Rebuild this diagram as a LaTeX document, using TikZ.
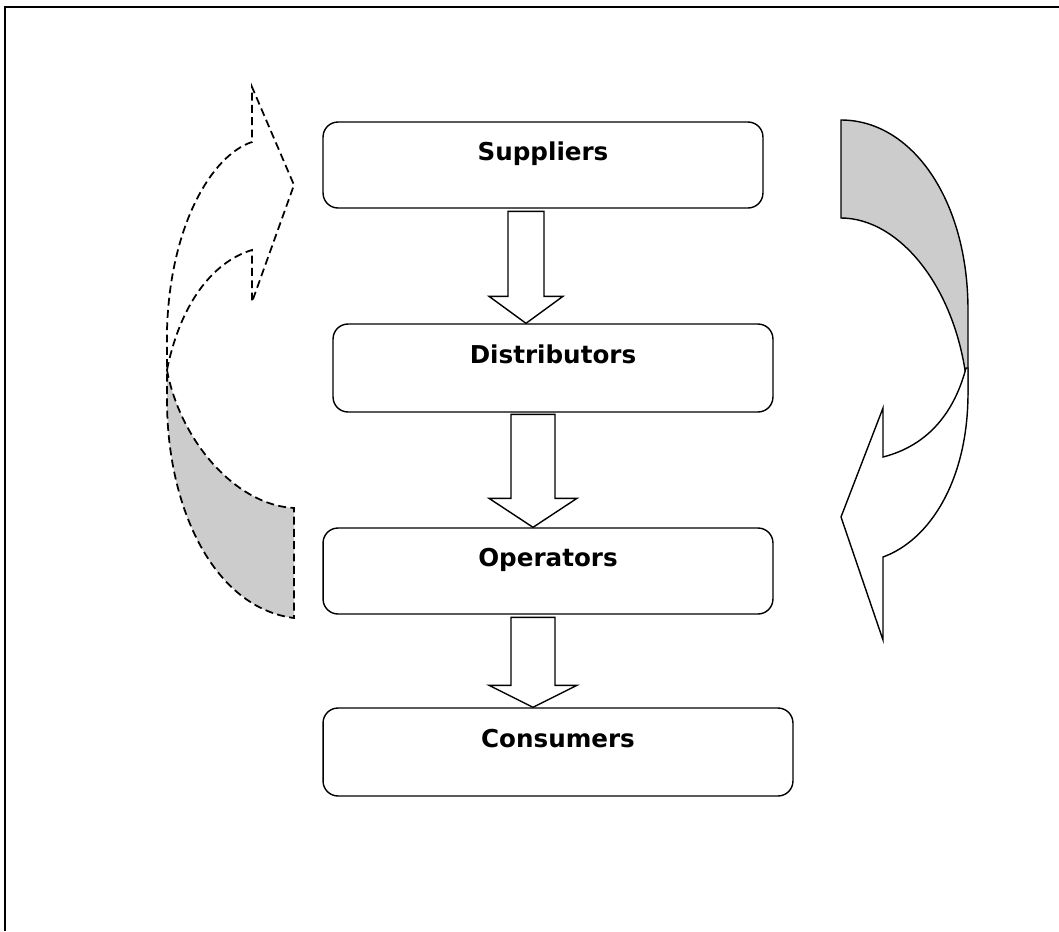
\documentclass[tikz,border=0pt]{standalone}
\usepackage{fontspec}
\setmainfont{DejaVu Sans}
\usepackage{tikz}
\usetikzlibrary{calc}
\definecolor{backshade}{gray}{0.8}

\begin{document}
\begin{tikzpicture}[x=0.02cm,y=-0.02cm,
  stage/.style={draw,line width=0.8pt,rounded corners=0.3cm,font=\bfseries\fontsize{14}{16}\selectfont,text height=10.5pt,text depth=15.7pt},
  flow/.style={draw,line width=0.8pt,fill=white},
  loopback/.style={draw,line width=1pt,dash pattern=on 4.5pt off 2.5pt}]
  \useasboundingbox (0,0) rectangle (1059,931);
  %frame
  \draw[line width=1.1pt] (5,931) -- (5,7) -- (1059,7);
  %boxes
  \node[stage,minimum width=8.8cm,minimum height=1.72cm] (sup) at (543,165) {Suppliers};
  \node[stage,minimum width=8.8cm,minimum height=1.76cm] (dis) at (553,368) {Distributors};
  \node[stage,minimum width=9cm,minimum height=1.72cm] (ope) at (548,571) {Operators};
  \node[stage,minimum width=9.4cm,minimum height=1.76cm] (con) at (558,752) {Consumers};
  %arrows
  \draw[flow] ($(dis.north)+(-27,0)$) -- ++(-37,-27) -- ++(19,0) -- ++(0,-85) -- ++(36,0) -- ++(0,85) -- ++(19,0) -- cycle;
  \draw[flow] ($(ope.north)+(-15,0)$) -- ++(-44,-29) -- ++(22,0) -- ++(0,-84) -- ++(44,0) -- ++(0,84) -- ++(22,0) -- cycle;
  \draw[flow] ($(con.north)+(-25,0)$) -- ++(-44,-22) -- ++(22,0) -- ++(0,-68) -- ++(44,0) -- ++(0,68) -- ++(22,0) -- cycle;
  %right
  \filldraw[flow,fill=backshade] (841,120) .. controls (912,120) and (968,200) .. (968,310) -- (968,395) .. controls (960,290) and (900,218) .. (841,218) -- cycle;
  \filldraw[flow] (966,368) .. controls (955,410) and (930,445) .. (883,457) -- (883,408) -- (841,517) -- (883,640) -- (883,557) .. controls (930,540) and (968,480) .. (968,393) -- (968,368) -- cycle;
  %left
  \filldraw[loopback,fill=backshade] (167,370) .. controls (180,440) and (235,505) .. (294,508) -- (294,618) .. controls (215,608) and (167,510) .. (167,400) -- cycle;
  \filldraw[loopback,fill=white] (167,370) .. controls (180,305) and (212,262) .. (252,250) -- (252,302) -- (294,185) -- (252,87) -- (252,142) .. controls (212,155) and (170,225) .. (167,330) -- cycle;
\end{tikzpicture}
\end{document}
